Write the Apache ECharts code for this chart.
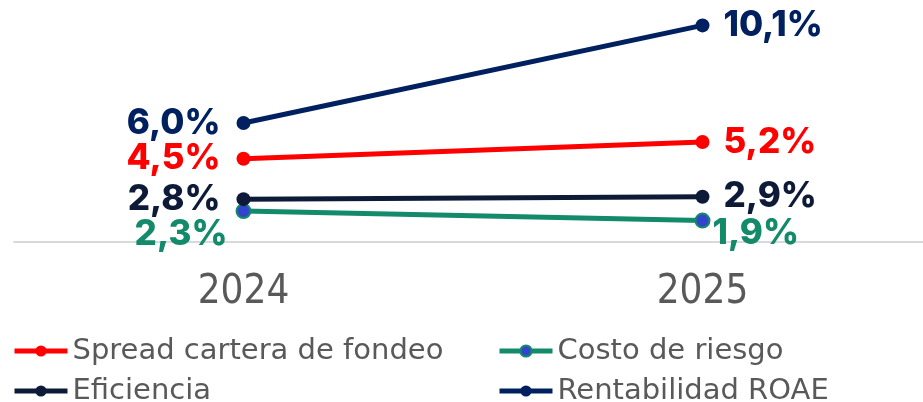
<!DOCTYPE html>
<html>
    <head>
        <meta charset="utf-8">
        <script src="https://cdn.jsdelivr.net/npm/echarts@6/dist/echarts.min.js"></script>
    </head>
    <body style="margin:0">
        <style>
            html, body, #main {
                width: 923px;
                height: 402px;
                background: #fff;
            }
        </style>
        <div id="main"></div>
        <script>
            var years = ['2024', '2025'];
            var spread = [4.5, 5.2];
            var costo = [2.3, 1.9];
            var eficiencia = [2.8, 2.9];
            var roae = [6.0, 10.1];

            var labelFont = 'Inter';
            var fmt = function (p) {
                return p.value.toFixed(1).replace('.', ',') + '%';
            };

            function makeSeries(name, values, color, symbolColor, left, right) {
                var extra = [left, right];
                return {
                    name: name,
                    type: 'line',
                    data: values.map(function (v, i) {
                        var lb = Object.assign(
                            i === 0 ? { position: 'left', distance: 16 } : { position: 'right', distance: 14 },
                            extra[i]
                        );
                        lb.color = color;
                        return { value: v, label: lb };
                    }),
                    symbol: 'circle',
                    symbolSize: 14,
                    lineStyle: { color: color, width: 5 },
                    itemStyle: { color: symbolColor, borderColor: color, borderWidth: symbolColor === color ? 0 : 2 },
                    label: {
                        show: true,
                        formatter: fmt,
                        fontFamily: labelFont,
                        fontWeight: 800,
                        fontSize: 35
                    },
                    emphasis: { disabled: true }
                };
            }

            var chart = echarts.init(document.getElementById('main'));

            var legendText = { color: '#595959', fontSize: 29, lineHeight: 30, fontFamily: 'DejaVu Sans' };
            function legendAt(name, x, y) {
                return {
                    left: x, top: y, padding: 0, itemWidth: 53, itemHeight: 14,
                    lineStyle: { width: 5 },
                    textStyle: legendText,
                    data: [name]
                };
            }

            chart.setOption({
                animation: false,
                grid: { left: 14, width: 918, top: 4, height: 238, outerBoundsMode: 'none', containLabel: false },
                legend: [
                    legendAt('Spread cartera de fondeo', 12, 336),
                    legendAt('Eficiencia', 12, 376),
                    legendAt('Costo de riesgo', 497, 336),
                    legendAt('Rentabilidad ROAE', 497, 376)
                ],
                xAxis: {
                    type: 'category',
                    data: years,
                    axisLine: { lineStyle: { color: '#d9d9d9', width: 2 } },
                    axisTick: { show: false },
                    axisLabel: { color: '#595959', fontSize: 40, fontFamily: 'DejaVu Sans Condensed', fontWeight: 200, margin: 31 }
                },
                yAxis: {
                    type: 'value',
                    min: 1,
                    max: 11,
                    show: false
                },
                series: [
                    makeSeries('Spread cartera de fondeo', spread, '#ff0000', '#ff0000', {}, {}),
                    makeSeries('Costo de riesgo', costo, '#138a6a', '#3344cc', { offset: [8, 23] }, { offset: [-12, 13] }),
                    makeSeries('Eficiencia', eficiencia, '#0e1b38', '#0e1b38', {}, {}),
                    makeSeries('Rentabilidad ROAE', roae, '#002060', '#002060', {}, {})
                ]
            });
        </script>
    </body>
</html>
